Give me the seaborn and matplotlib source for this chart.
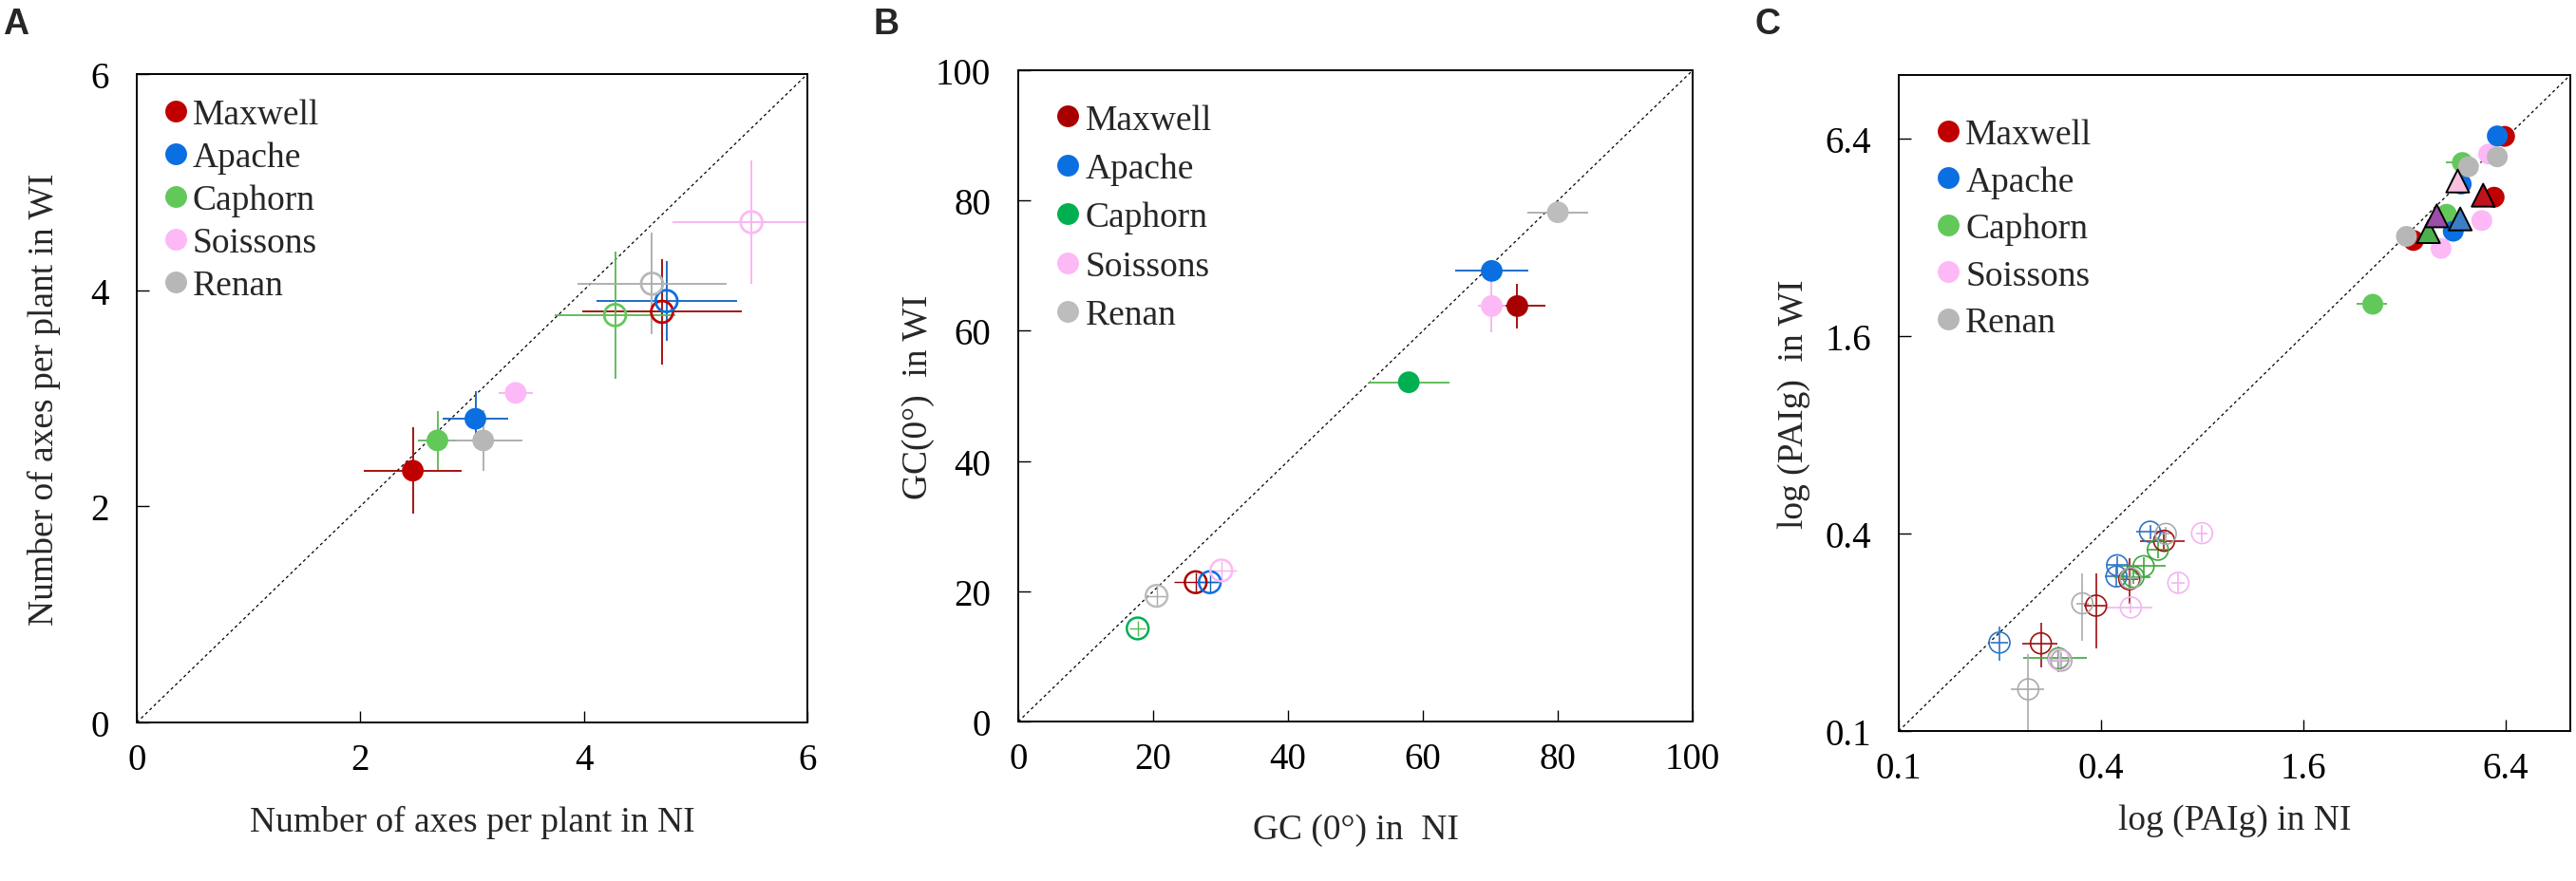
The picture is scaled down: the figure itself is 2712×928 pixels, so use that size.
import numpy as np
import pandas as pd
import matplotlib
matplotlib.use("Agg")
import matplotlib.pyplot as plt
import seaborn as sns
from matplotlib.lines import Line2D

sns.set_style("white")
SERIF = ["Liberation Serif", "DejaVu Serif"]
plt.rcParams["font.family"] = SERIF

cultivars = ["Maxwell", "Apache", "Caphorn", "Soissons", "Renan"]
col_fill = ["#C00000", "#0A6FE0", "#62C85A", "#FDB8F6", "#B7B7B7"]
col_fill_B = ["#A80000", "#0A6FE0", "#00B050", "#FDB8F6", "#BDBDBD"]
col_err = ["#A00000", "#1060C0", "#58B850", "#F8B0F0", "#AAAAAA"]
col_open_C = ["#A01010", "#2F74C8", "#3DA83D", "#F2B4F0", "#AAAAAA"]

# ---------------- Panel A: number of axes per plant ----------------
a_fill_x = [2.47, 3.03, 2.69, 3.39, 3.10]
a_fill_y = [2.33, 2.81, 2.61, 3.05, 2.61]
a_fill_xerr = [0.44, 0.29, 0.17, 0.15, 0.35]
a_fill_yerr = [0.40, 0.26, 0.27, 0.02, 0.28]
a_open_x = [4.70, 4.74, 4.28, 5.50, 4.61]
a_open_y = [3.80, 3.90, 3.77, 4.63, 4.06]
a_open_xerr = [0.71, 0.63, 0.54, 0.71, 0.67]
a_open_yerr = [0.49, 0.37, 0.59, 0.57, 0.47]

# ---------------- Panel B: GC(0°) ----------------
b_fill_x = [74.0, 70.2, 57.9, 70.2, 80.0]
b_fill_y = [63.8, 69.2, 52.1, 63.8, 78.2]
b_fill_xerr = [4.1, 5.4, 6.0, 2.0, 4.5]
b_fill_yerr = [3.4, 1.0, 0.5, 4.0, 1.0]
b_open_x = [26.3, 28.4, 17.7, 30.1, 20.5]
b_open_y = [21.4, 21.4, 14.3, 23.2, 19.3]
b_open_xerr = [3.2, 1.5, 1.2, 2.3, 1.5]
b_open_yerr = [1.5, 1.5, 1.2, 1.5, 1.5]

# ---------------- Panel C: PAIg (log) ----------------
c_fill_cv = ["Maxwell"] * 3 + ["Soissons"] * 3 + ["Caphorn"] * 3 + ["Apache"] * 3 + ["Renan"] * 3
c_fill_x = [6.37, 5.93, 3.41, 5.71, 5.45, 4.12, 4.77, 4.28, 2.58, 6.06, 4.73, 4.48, 6.06, 4.97, 3.25]
c_fill_y = [6.50, 4.24, 3.13, 5.74, 3.60, 2.96, 5.41, 3.76, 2.00, 6.52, 4.65, 3.34, 5.63, 5.25, 3.22]
c_fill_xerr = [0.15, 0.40, 0.10, 0.10, 0.10, 0.10, 0.50, 0.10, 0.27, 0.10, 0.10, 0.10, 0.20, 0.10, 0.10]
c_fill_yerr = [0.10, 0.30, 0.10, 0.10, 0.10, 0.10, 0.10, 0.10, 0.05, 0.10, 0.10, 0.10, 0.25, 0.10, 0.20]

c_tri_label = ["Maxwell", "Apache", "Caphorn", "Soissons", "Other"]
c_tri_x = [5.50, 4.70, 3.78, 4.62, 4.00]
c_tri_y = [4.30, 3.64, 3.33, 4.75, 3.72]
c_tri_col = ["#C0141C", "#3C7FC8", "#4CB04C", "#F8C0DC", "#9B4FA8"]

c_open_cv = (["Apache"] * 4 + ["Maxwell"] * 4 + ["Caphorn"] * 4 + ["Renan"] * 5 + ["Soissons"] * 4)
c_open_x = [0.1995, 0.447, 0.445, 0.560,
            0.265, 0.387, 0.486, 0.617,
            0.299, 0.536, 0.591, 0.500,
            0.243, 0.352, 0.305, 0.490, 0.624,
            0.300, 0.491, 0.680, 0.800]
c_open_y = [0.186, 0.320, 0.296, 0.405,
            0.185, 0.241, 0.290, 0.380,
            0.1665, 0.318, 0.357, 0.295,
            0.134, 0.245, 0.164, 0.292, 0.399,
            0.165, 0.238, 0.283, 0.401]
c_open_xerr = [0.012, 0.030, 0.035, 0.050,
               0.032, 0.030, 0.030, 0.095,
               0.065, 0.087, 0.040, 0.060,
               0.027, 0.015, 0.020, 0.030, 0.030,
               0.020, 0.080, 0.030, 0.030]
c_open_yerr = [0.022, 0.020, 0.020, 0.020,
               0.029, 0.062, 0.046, 0.025,
               0.015, 0.020, 0.020, 0.015,
               0.038, 0.057, 0.010, 0.020, 0.020,
               0.010, 0.010, 0.020, 0.025]

FS = 27
TFS = 28
fig = plt.figure(figsize=(27.12, 9.29), dpi=100)
axA = fig.add_axes([0.0531, 0.1798, 0.2603, 0.7351])
axB = fig.add_axes([0.3953, 0.1808, 0.2618, 0.7384])
axC = fig.add_axes([0.7371, 0.1701, 0.2607, 0.7438])

S = 270


def draw_set(ax, xs, ys, xe, ye, cols, ecols, cvs, open_=False, s=S, lw=2.0, elw=1.3):
    for x, y, ex, ey, ec in zip(xs, ys, xe, ye, ecols):
        ax.errorbar(x, y, xerr=ex, yerr=ey, fmt="none", ecolor=ec, elinewidth=elw, capsize=0, zorder=2)
    df = pd.DataFrame({"x": xs, "y": ys, "cv": cvs})
    pal = dict(zip(cvs, cols))
    sns.scatterplot(data=df, x="x", y="y", hue="cv", palette=pal, s=s, ax=ax,
                    legend=False, edgecolor="none" if not open_ else None,
                    linewidth=0 if not open_ else lw, zorder=3)
    if open_:
        coll = ax.collections[-1]
        fc = coll.get_facecolors()
        coll.set_edgecolors(fc)
        coll.set_facecolors("none")
        coll.set_linewidths(lw)


def style(ax, lim, ticks, labels, xlabel, ylabel, xlab_y, ylab_x, log=False):
    if log:
        ax.set_xscale("log")
        ax.set_yscale("log")
    ax.set_xlim(*lim)
    ax.set_ylim(*lim)
    ax.plot(lim, lim, color="black", lw=0.9, ls=(0, (2.5, 2.5)), zorder=1)
    ax.set_xticks(ticks)
    ax.set_yticks(ticks)
    ax.set_xticklabels(labels)
    ax.set_yticklabels(labels)
    ax.minorticks_off()
    ax.tick_params(direction="in", length=9, width=1.0, labelsize=TFS,
                   bottom=True, left=True, top=False, right=False, colors="black")
    ax.tick_params(axis="x", pad=15)
    ax.tick_params(axis="y", pad=21)
    for lbl in ax.get_xticklabels() + ax.get_yticklabels():
        lbl.set_family(SERIF)
    for sp in ax.spines.values():
        sp.set_color("black")
        sp.set_linewidth(1.4)
    ax.set_xlabel(xlabel, fontsize=FS, va="center")
    ax.set_ylabel(ylabel, fontsize=FS, va="center")
    ax.xaxis.set_label_coords(0.5, xlab_y)
    ax.yaxis.set_label_coords(ylab_x, 0.5)


def legend(ax, cols, anchor, spacing):
    handles = [Line2D([], [], marker="o", ls="", color=c, markersize=16.5, markeredgewidth=0)
               for c in cols]
    ax.legend(handles, cultivars, loc="upper left", bbox_to_anchor=anchor, frameon=False,
              fontsize=FS, handlelength=0.6, handletextpad=0.18, labelspacing=spacing,
              borderaxespad=0, borderpad=0)


# Panel A
draw_set(axA, a_fill_x, a_fill_y, a_fill_xerr, a_fill_yerr, col_fill, col_err, cultivars)
draw_set(axA, a_open_x, a_open_y, a_open_xerr, a_open_yerr, col_fill, col_err, cultivars, open_=True, lw=2.0)
style(axA, (0, 6), [0, 2, 4, 6], ["0", "2", "4", "6"],
      "Number of axes per plant in NI", "Number of axes per plant in WI", -0.153, -0.138)
legend(axA, col_fill, (0.042, 0.963), 0.28)

# Panel B
draw_set(axB, b_fill_x, b_fill_y, b_fill_xerr, b_fill_yerr, col_fill_B, col_err, cultivars)
draw_set(axB, b_open_x, b_open_y, b_open_xerr, b_open_yerr, col_fill_B, col_err, cultivars, open_=True, lw=1.8, elw=1.0)
style(axB, (0, 100), [0, 20, 40, 60, 80, 100], ["0", "20", "40", "60", "80", "100"],
      "GC (0°) in  NI", "GC(0°)  in WI", -0.166, -0.149)
legend(axB, col_fill_B, (0.058, 0.949), 0.45)

# Panel C
c_fill_cols = [col_fill[cultivars.index(c)] for c in c_fill_cv]
c_fill_ecols = [col_err[cultivars.index(c)] for c in c_fill_cv]
draw_set(axC, c_fill_x, c_fill_y, c_fill_xerr, c_fill_yerr, c_fill_cols, c_fill_ecols, c_fill_cv, s=250)
df_tri = pd.DataFrame({"x": c_tri_x, "y": c_tri_y, "cv": c_tri_label})
sns.scatterplot(data=df_tri, x="x", y="y", hue="cv", palette=dict(zip(c_tri_label, c_tri_col)),
                marker="^", s=300, edgecolor="black", linewidth=1.4, ax=axC, legend=False, zorder=4)
c_open_cols = [col_open_C[cultivars.index(c)] for c in c_open_cv]
draw_set(axC, c_open_x, c_open_y, c_open_xerr, c_open_yerr, c_open_cols, c_open_cols, c_open_cv,
         open_=True, s=250, lw=1.2, elw=1.2)
style(axC, (0.1, 10), [0.1, 0.4, 1.6, 6.4], ["0.1", "0.4", "1.6", "6.4"],
      "log (PAIg) in NI", "log (PAIg)  in WI", -0.135, -0.156, log=True)
legend(axC, col_fill, (0.058, 0.934), 0.40)

for lab, xpos in zip(["A", "B", "C"], [3, 920, 1848]):
    fig.text(xpos / 2712, 1 - 8 / 929, lab, fontsize=27, fontweight="bold",
             family=["Liberation Sans", "DejaVu Sans"], va="top", ha="left")

fig.savefig("out.png", dpi=100)
